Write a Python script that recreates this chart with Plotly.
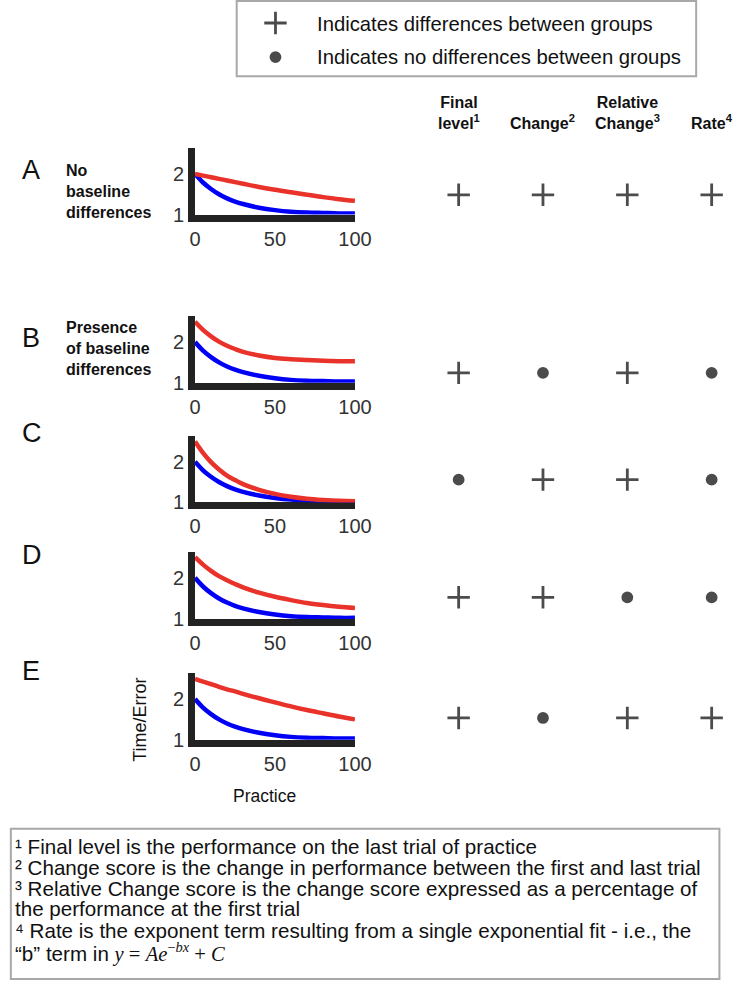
import plotly.graph_objects as go

# ---------------- data ----------------
scenarios = ["A", "B", "C", "D", "E"]
scenario_labels = {"A": "No<br>baseline<br>differences",
                   "B": "Presence<br>of baseline<br>differences"}

practice = [0, 5, 10, 15, 20, 25, 30, 40, 50, 60, 70, 80, 90, 100]
blue_curve = [2.0, 1.79, 1.63, 1.50, 1.40, 1.32, 1.26, 1.17, 1.11, 1.07, 1.05, 1.04, 1.03, 1.03]
red_A = [2.0, 1.96, 1.92, 1.88, 1.84, 1.80, 1.76, 1.68, 1.61, 1.55, 1.49, 1.43, 1.38, 1.34]
red_B = [2.5, 2.30, 2.14, 2.01, 1.91, 1.83, 1.76, 1.67, 1.61, 1.58, 1.56, 1.54, 1.53, 1.53]
red_C = [2.5, 2.22, 1.99, 1.81, 1.66, 1.55, 1.45, 1.31, 1.21, 1.14, 1.09, 1.06, 1.04, 1.03]
red_D = [2.5, 2.32, 2.17, 2.04, 1.94, 1.85, 1.77, 1.64, 1.54, 1.46, 1.39, 1.34, 1.30, 1.27]
red_E = [2.5, 2.43, 2.37, 2.30, 2.24, 2.19, 2.13, 2.02, 1.92, 1.82, 1.73, 1.65, 1.57, 1.50]
red_curves = {"A": red_A, "B": red_B, "C": red_C, "D": red_D, "E": red_E}

x_ticks = [0, 50, 100]
y_ticks = [1, 2]

metrics = ["Final level", "Change", "Relative Change", "Rate"]
metric_headers = ["Final<br>level<sup>1</sup>", "Change<sup>2</sup>",
                  "Relative<br>Change<sup>3</sup>", "Rate<sup>4</sup>"]
results = {
    "A": ["+", "+", "+", "+"],
    "B": ["+", "•", "+", "•"],
    "C": ["•", "+", "+", "•"],
    "D": ["+", "+", "•", "•"],
    "E": ["+", "•", "+", "+"],
}
key_symbols = ["+", "•"]
key_texts = ["Indicates differences between groups",
             "Indicates no differences between groups"]

footnotes = [
    "¹ Final level is the performance on the last trial of practice",
    "² Change score is the change in performance between the first and last trial",
    "³ Relative Change score is the change score expressed as a percentage of",
    "the performance at the first trial",
    "⁴ Rate is the exponent term resulting from a single exponential fit - i.e., the",
    "“b” term in <span style=\"font-family:Liberation Serif\"><i>y</i> = <i>Ae</i>"
    "<sup>−<i>bx</i></sup> + <i>C</i></span>",
]

# ---------------- layout helpers ----------------
W, H = 750, 995
FONT = "Liberation Sans, Arial, sans-serif"


def fx(p):
    return p / W


def fy(p):
    return 1 - p / H


SYMBOL = {"+": "cross-thin", "•": "circle"}
SIZE = {"+": 16, "•": 9}

RED = "#e8322a"
BLUE = "#0000f5"
SPINE = "#222222"
TICKC = "#333333"

panel_px = {"A": (150, 217), "B": (320, 387), "C": (441, 508), "D": (558, 626), "E": (681, 748)}
marker_row_px = {"A": 197, "B": 377, "C": 485, "D": 604, "E": 726}
letter_px = {"A": 172, "B": 342, "C": 438, "D": 561, "E": 679}
label_px = {"A": 193.5, "B": 352}

fig = go.Figure()
layout = dict(
    width=W, height=H, autosize=False,
    margin=dict(l=0, r=0, t=0, b=0),
    paper_bgcolor="white", plot_bgcolor="rgba(0,0,0,0)",
    showlegend=False,
    font=dict(family=FONT, color="#111"),
)
annotations = []
shapes = []

for i, s in enumerate(scenarios):
    n = i + 1
    xa = "x" if n == 1 else f"x{n}"
    ya = "y" if n == 1 else f"y{n}"
    top, bot = panel_px[s]
    fig.add_trace(go.Scatter(x=practice, y=blue_curve, mode="lines", xaxis=xa, yaxis=ya,
                             line=dict(color=BLUE, width=4.5, shape="spline", smoothing=1.0),
                             hoverinfo="skip"))
    fig.add_trace(go.Scatter(x=practice, y=red_curves[s], mode="lines", xaxis=xa, yaxis=ya,
                             line=dict(color=RED, width=4.5, shape="spline", smoothing=1.0),
                             hoverinfo="skip"))
    layout[f"xaxis{n if n > 1 else ''}"] = dict(
        domain=[fx(195), fx(360)], range=[0, 100], anchor=ya,
        showline=True, linewidth=7, linecolor=SPINE, ticks="",
        tickvals=x_ticks, showgrid=False, zeroline=False, fixedrange=True,
        tickfont=dict(size=20, color=TICKC, family=FONT), layer="below traces",
    )
    layout[f"yaxis{n if n > 1 else ''}"] = dict(
        domain=[fy(bot), fy(top)], range=[1.0, 2.63], anchor=xa,
        showline=True, linewidth=7, linecolor=SPINE, ticks="",
        tickvals=y_ticks, showgrid=False, zeroline=False, fixedrange=True,
        tickfont=dict(size=20, color=TICKC, family=FONT), layer="below traces",
    )
    annotations.append(dict(text=s, x=fx(14), y=fy(letter_px[s]), xref="paper", yref="paper",
                            xanchor="left", yanchor="middle", showarrow=False,
                            font=dict(size=27, color="#111", family=FONT)))
    if s in scenario_labels:
        annotations.append(dict(text="<b>" + scenario_labels[s] + "</b>", x=fx(60), y=fy(label_px[s]),
                                xref="paper", yref="paper", xanchor="left", yanchor="middle",
                                align="left", showarrow=False,
                                font=dict(size=16, color="#111", family=FONT)))

# indicator table: shared category x-axis, one y-axis per scenario row
MX = len(scenarios) + 1
layout[f"xaxis{MX}"] = dict(domain=[0.5, 1.0], type="category", categoryorder="array",
                            categoryarray=metrics, range=[-1.057, 3.253], visible=False,
                            anchor=f"y{MX}", fixedrange=True)
for j, s in enumerate(scenarios):
    yn = MX + j
    yc = marker_row_px[s]
    layout[f"yaxis{yn}"] = dict(domain=[fy(yc + 15), fy(yc - 15)], type="category",
                                categoryarray=[s], range=[-0.5, 0.5], visible=False,
                                anchor=f"x{MX}", fixedrange=True)
    fig.add_trace(go.Scatter(
        x=metrics, y=[s] * len(metrics), mode="markers",
        xaxis=f"x{MX}", yaxis=f"y{yn}", hoverinfo="skip",
        marker=dict(symbol=[SYMBOL[r] for r in results[s]],
                    size=[SIZE[r] for r in results[s]],
                    color="#000", line=dict(color="#000", width=2.8)),
    ))

for m, h in zip(metrics, metric_headers):
    annotations.append(dict(text="<b>" + h + "</b>", x=m, y=fy(136), xref=f"x{MX}", yref="paper",
                            xanchor="center", yanchor="bottom", showarrow=False,
                            font=dict(size=16, color="#111", family=FONT)))

# key (legend) box at top
KX = MX + 1
KY = MX + len(scenarios)
layout[f"xaxis{KX}"] = dict(domain=[fx(258), fx(298)], range=[-1, 1], visible=False,
                            anchor=f"y{KY}", fixedrange=True)
layout[f"yaxis{KY}"] = dict(domain=[fy(75), fy(6)], type="category", categoryarray=key_texts,
                            range=[1.5, -0.5], visible=False, anchor=f"x{KX}", fixedrange=True)
fig.add_trace(go.Scatter(
    x=[0] * len(key_symbols), y=key_texts, mode="markers",
    xaxis=f"x{KX}", yaxis=f"y{KY}", hoverinfo="skip",
    marker=dict(symbol=[SYMBOL[k] for k in key_symbols], size=[SIZE[k] for k in key_symbols],
                color="#000", line=dict(color="#000", width=2.8)),
))
for t, yy in zip(key_texts, [24, 58]):
    annotations.append(dict(text=t, x=fx(319), y=fy(yy), xref="paper", yref="paper",
                            xanchor="left", yanchor="middle", showarrow=False,
                            font=dict(size=20.3, color="#111", family=FONT)))
shapes.append(dict(type="rect", xref="paper", yref="paper", x0=fx(238), x1=fx(712),
                   y0=fy(77), y1=fy(1), line=dict(color="#a8a8a8", width=2)))

# axis titles of bottom panel
annotations.append(dict(text="Practice", x=fx(267), y=fy(805), xref="paper", yref="paper",
                        xanchor="center", yanchor="middle", showarrow=False,
                        font=dict(size=17.5, color="#111", family=FONT)))
annotations.append(dict(text="Time/Error", x=fx(138), y=fy(728), xref="paper", yref="paper",
                        xanchor="center", yanchor="middle", textangle=-90, showarrow=False,
                        font=dict(size=18, color="#111", family=FONT)))

# footnote box
for k, (t, yy) in enumerate(zip(footnotes, [856, 877, 898, 919, 941, 963])):
    annotations.append(dict(text=t, x=fx(7), y=fy(yy), xref="paper", yref="paper",
                            xanchor="left", yanchor="middle", showarrow=False, align="left",
                            font=dict(size=20.6, color="#111", family=FONT)))
shapes.append(dict(type="rect", xref="paper", yref="paper", x0=fx(5), x1=fx(736),
                   y0=fy(990), y1=fy(838), line=dict(color="#a8a8a8", width=2)))

layout["annotations"] = annotations
layout["shapes"] = shapes
fig.update_layout(**layout)
fig.write_html("out.html", config={"responsive": False, "displayModeBar": False})
